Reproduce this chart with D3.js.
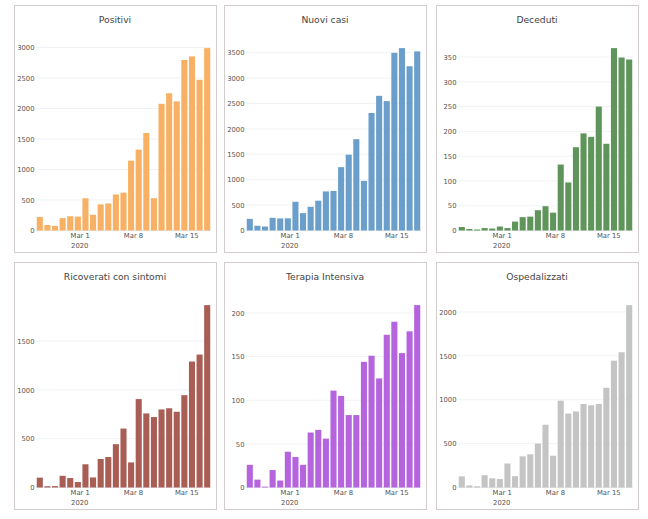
<!DOCTYPE html>
<html>
<head>
<meta charset="utf-8">
<script src="https://cdn.jsdelivr.net/npm/d3@7"></script>
<style>
  body { margin: 0; background: #fff; }
  svg { display: block; }
</style>
</head>
<body>
<div id="chart"></div>
<script>
// daily report dates (values refer to 18:00 of each day)
var dates = ["2020-02-24", "2020-02-25", "2020-02-26", "2020-02-27", "2020-02-28", "2020-02-29",
  "2020-03-01", "2020-03-02", "2020-03-03", "2020-03-04", "2020-03-05", "2020-03-06", "2020-03-07",
  "2020-03-08", "2020-03-09", "2020-03-10", "2020-03-11", "2020-03-12", "2020-03-13", "2020-03-14",
  "2020-03-15", "2020-03-16", "2020-03-17"];

var positivi = [221, 90, 74, 203, 233, 228, 528, 258, 428, 443, 590, 620, 1145, 1326, 1598, 529,
  2076, 2249, 2116, 2795, 2853, 2470, 2989];
var nuoviCasi = [229, 93, 78, 250, 238, 240, 566, 342, 466, 587, 769, 778, 1247, 1492, 1797, 977,
  2313, 2651, 2547, 3497, 3590, 3233, 3526];
var deceduti = [7, 3, 2, 5, 4, 8, 5, 18, 27, 28, 41, 49, 36, 133, 97, 168, 196, 189, 250, 175,
  368, 349, 345];
var ricoverati = [101, 13, 14, 120, 97, 56, 238, 103, 292, 312, 444, 604, 257, 906, 759, 722,
  800, 812, 776, 946, 1291, 1362, 1869];
var terapia = [26, 9, 1, 20, 8, 41, 35, 26, 63, 66, 56, 111, 105, 83, 83, 144, 151, 125, 175,
  190, 154, 179, 209];
var ospedalizzati = [127, 23, 14, 140, 105, 97, 273, 129, 355, 378, 500, 715, 362, 989, 842, 866,
  951, 937, 951, 1136, 1445, 1541, 2078];

var titles = ["Positivi", "Nuovi casi", "Deceduti", "Ricoverati con sintomi", "Terapia Intensiva", "Ospedalizzati"];
var seriesList = [positivi, nuoviCasi, deceduti, ricoverati, terapia, ospedalizzati];
var colors = ["#f7b064", "#6b9fcb", "#5f955a", "#a95e55", "#b564de", "#c4c4c4"];
var yTicks = [
  [0, 500, 1000, 1500, 2000, 2500, 3000],
  [0, 500, 1000, 1500, 2000, 2500, 3000, 3500],
  [0, 50, 100, 150, 200, 250, 300, 350],
  [0, 500, 1000, 1500],
  [0, 50, 100, 150, 200],
  [0, 500, 1000, 1500, 2000]
];
var xTicks = ["2020-03-01", "2020-03-08", "2020-03-15"];

var svgWidth = 648;
var svgHeight = 519;

// panel boxes
var colX = [14, 224, 436];
var rowY = [5, 262];
var panelW = 202;
var panelH = 247;

// plot area inside each panel
var margin = { top: 34, left: 22 };
var plotW = 175;
var plotH = 191.5;

var parse = d3.utcParse("%Y-%m-%d");
var HOUR = 3600 * 1000;
var DAY = 24 * HOUR;

var svg = d3.select("#chart")
  .append("svg")
  .attr("width", svgWidth)
  .attr("height", svgHeight);

var x0 = new Date(parse(dates[0]).getTime() + 6 * HOUR);
var x1 = new Date(parse(dates[dates.length - 1]).getTime() + 30 * HOUR);

var xScale = d3.scaleUtc()
  .domain([x0, x1])
  .range([0, plotW]);

var dayW = xScale(new Date(x0.getTime() + DAY)) - xScale(x0);
var barW = dayW * 0.8;

var fmt = d3.utcFormat("%b %-d");

seriesList.forEach(function(values, i) {
  var px = colX[i % 3];
  var py = rowY[Math.floor(i / 3)];

  var panel = svg.append("g")
    .attr("transform", `translate(${px}, ${py})`);

  panel.append("rect")
    .attr("x", 0.5)
    .attr("y", 0.5)
    .attr("width", panelW)
    .attr("height", panelH)
    .attr("fill", "#fff")
    .attr("stroke", "#d3cdcd")
    .attr("stroke-width", 1);

  panel.append("text")
    .attr("x", panelW / 2)
    .attr("y", 17.5)
    .attr("text-anchor", "middle")
    .attr("font-family", "DejaVu Sans, Verdana, sans-serif")
    .attr("font-size", "9.2px")
    .attr("fill", "#444")
    .text(titles[i]);

  var plot = panel.append("g")
    .attr("transform", `translate(${margin.left}, ${margin.top})`);

  var yScale = d3.scaleLinear()
    .domain([0, d3.max(values) * 1.05])
    .range([plotH, 0]);

  // grid lines
  plot.selectAll(".grid")
    .data(yTicks[i])
    .enter()
    .append("line")
    .attr("x1", 0)
    .attr("x2", plotW)
    .attr("y1", d => yScale(d))
    .attr("y2", d => yScale(d))
    .attr("stroke", d => d === 0 ? "#e6e9ef" : "#f0f2f6")
    .attr("stroke-width", 1);

  // bars
  plot.selectAll("rect")
    .data(values)
    .enter()
    .append("rect")
    .attr("x", (d, j) => xScale(new Date(parse(dates[j]).getTime() + 18 * HOUR)) - barW / 2)
    .attr("y", d => yScale(d))
    .attr("width", barW)
    .attr("height", d => plotH - yScale(d))
    .attr("fill", colors[i]);

  // y axis labels
  var leftAxis = d3.axisLeft(yScale)
    .tickValues(yTicks[i])
    .tickFormat(d3.format("d"))
    .tickSize(0)
    .tickPadding(1.5);

  var yAxis = plot.append("g").call(leftAxis);
  yAxis.select(".domain").remove();
  yAxis.selectAll("text")
    .attr("font-family", "DejaVu Sans, Verdana, sans-serif")
    .attr("font-size", "6.8px")
    .attr("fill", "#555");

  // x axis labels
  var bottomAxis = d3.axisBottom(xScale)
    .tickValues(xTicks.map(parse))
    .tickFormat(fmt)
    .tickSize(0)
    .tickPadding(2.5);

  var xAxis = plot.append("g")
    .attr("transform", `translate(0, ${plotH})`)
    .call(bottomAxis);
  xAxis.select(".domain").remove();
  xAxis.selectAll("text")
    .attr("font-family", "DejaVu Sans, Verdana, sans-serif")
    .attr("font-size", "6.8px")
    .attr("fill", "#555");

  // year under first tick
  xAxis.append("text")
    .attr("x", xScale(parse(xTicks[0])))
    .attr("y", 17.5)
    .attr("text-anchor", "middle")
    .attr("font-family", "DejaVu Sans, Verdana, sans-serif")
    .attr("font-size", "6.8px")
    .attr("fill", "#555")
    .text("2020");
});
</script>
</body>
</html>
